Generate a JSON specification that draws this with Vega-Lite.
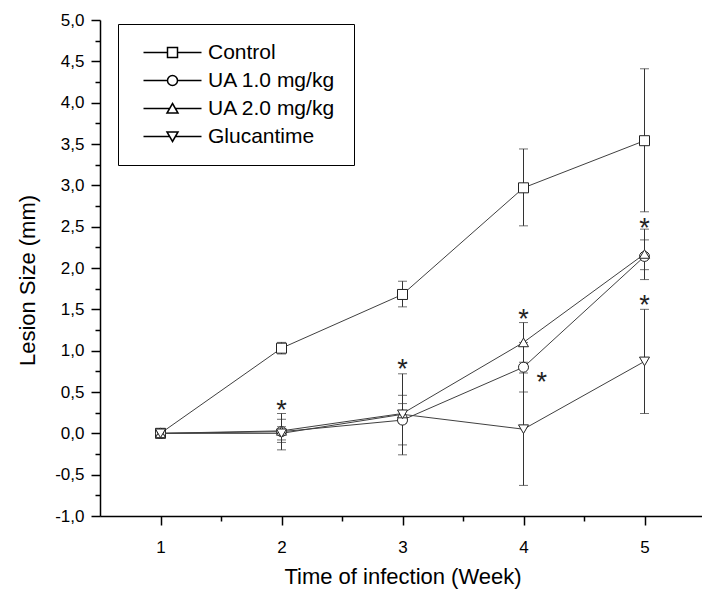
{
  "$schema": "https://vega.github.io/schema/vega-lite/v6.json",
  "width": 605,
  "height": 496,
  "autosize": "none",
  "padding": {"left": 100, "top": 20, "right": 0, "bottom": 76},
  "background": "white",
  "config": {
    "view": {"stroke": null},
    "font": "Liberation Sans",
    "axis": {"grid": false, "domainColor": "black", "tickColor": "black", "labelColor": "black", "titleColor": "black", "labelFont": "Liberation Sans", "titleFont": "Liberation Sans", "titleFontWeight": "normal", "domainWidth": 1.5, "tickWidth": 1.5}
  },
  "datasets": {
    "s": [
      {"series": "Control", "week": 1, "value": 0.0, "lo": -0.04, "hi": 0.04},
      {"series": "Control", "week": 2, "value": 1.03, "lo": 0.96, "hi": 1.10},
      {"series": "Control", "week": 3, "value": 1.68, "lo": 1.53, "hi": 1.84},
      {"series": "Control", "week": 4, "value": 2.97, "lo": 2.51, "hi": 3.44},
      {"series": "Control", "week": 5, "value": 3.54, "lo": 2.68, "hi": 4.41},
      {"series": "UA 1.0 mg/kg", "week": 1, "value": 0.0, "lo": -0.05, "hi": 0.05},
      {"series": "UA 1.0 mg/kg", "week": 2, "value": 0.02, "lo": -0.20, "hi": 0.24},
      {"series": "UA 1.0 mg/kg", "week": 3, "value": 0.16, "lo": -0.14, "hi": 0.46},
      {"series": "UA 1.0 mg/kg", "week": 4, "value": 0.80, "lo": 0.50, "hi": 1.10},
      {"series": "UA 1.0 mg/kg", "week": 5, "value": 2.14, "lo": 1.98, "hi": 2.34},
      {"series": "UA 2.0 mg/kg", "week": 1, "value": 0.0, "lo": -0.04, "hi": 0.04},
      {"series": "UA 2.0 mg/kg", "week": 2, "value": 0.03, "lo": -0.11, "hi": 0.17},
      {"series": "UA 2.0 mg/kg", "week": 3, "value": 0.24, "lo": 0.12, "hi": 0.36},
      {"series": "UA 2.0 mg/kg", "week": 4, "value": 1.10, "lo": 0.86, "hi": 1.34},
      {"series": "UA 2.0 mg/kg", "week": 5, "value": 2.17, "lo": 1.86, "hi": 2.47},
      {"series": "Glucantime", "week": 1, "value": 0.0, "lo": -0.04, "hi": 0.04},
      {"series": "Glucantime", "week": 2, "value": 0.0, "lo": -0.08, "hi": 0.08},
      {"series": "Glucantime", "week": 3, "value": 0.23, "lo": -0.26, "hi": 0.72},
      {"series": "Glucantime", "week": 4, "value": 0.05, "lo": -0.63, "hi": 0.73},
      {"series": "Glucantime", "week": 5, "value": 0.87, "lo": 0.24, "hi": 1.50}
    ],
    "ast": [
      {"week": 2, "value": 0.36},
      {"week": 3, "value": 0.85},
      {"week": 4, "value": 1.45},
      {"week": 4.15, "value": 0.69},
      {"week": 5, "value": 2.56},
      {"week": 5, "value": 1.62}
    ]
  },
  "layer": [
    {
      "data": {"name": "s"},
      "mark": {"type": "line", "color": "#404040", "strokeWidth": 1},
      "encoding": {
        "x": {"field": "week", "type": "quantitative", "scale": {"domain": [0.5, 5.5], "nice": false, "zero": false},
          "axis": {"values": [1, 2, 3, 4, 5], "format": "d", "tickSize": 9, "labelFontSize": 17, "labelPadding": 14, "title": "Time of infection (Week)", "titleFontSize": 22, "titlePadding": 11}},
        "y": {"field": "value", "type": "quantitative", "scale": {"domain": [-1, 5], "nice": false, "zero": false},
          "axis": {"values": [-1, -0.5, 0, 0.5, 1, 1.5, 2, 2.5, 3, 3.5, 4, 4.5, 5], "labelExpr": "(datum.value < 0 ? '-' : '') + replace(format(abs(datum.value), '.1f'), '.', ',')", "tickSize": 9, "labelFontSize": 17, "labelPadding": 7, "title": "Lesion Size (mm)", "titleFontSize": 22, "titlePadding": 15, "titleY": 260}},
        "detail": {"field": "series"}
      }
    },
    {
      "data": {"name": "s"},
      "mark": {"type": "rule", "color": "#333333", "strokeWidth": 1},
      "encoding": {
        "x": {"field": "week", "type": "quantitative", "scale": {"domain": [0.5, 5.5], "nice": false, "zero": false},
          "axis": {"orient": "bottom", "values": [1.5, 2.5, 3.5, 4.5], "labels": false, "domain": false, "tickSize": 5, "title": null}},
        "y": {"field": "lo", "type": "quantitative", "scale": {"domain": [-1, 5], "nice": false, "zero": false},
          "axis": {"orient": "left", "values": [-0.75, -0.25, 0.25, 0.75, 1.25, 1.75, 2.25, 2.75, 3.25, 3.75, 4.25, 4.75], "labels": false, "domain": false, "tickSize": 5, "title": null}},
        "y2": {"field": "hi"}
      }
    },
    {
      "data": {"name": "s"},
      "mark": {"type": "tick", "orient": "horizontal", "color": "#333333", "size": 9, "thickness": 1},
      "encoding": {
        "x": {"field": "week", "type": "quantitative", "scale": {"domain": [0.5, 5.5], "nice": false, "zero": false}, "axis": null},
        "y": {"field": "lo", "type": "quantitative", "scale": {"domain": [-1, 5], "nice": false, "zero": false}, "axis": null}
      }
    },
    {
      "data": {"name": "s"},
      "mark": {"type": "tick", "orient": "horizontal", "color": "#333333", "size": 9, "thickness": 1},
      "encoding": {
        "x": {"field": "week", "type": "quantitative", "scale": {"domain": [0.5, 5.5], "nice": false, "zero": false}, "axis": null},
        "y": {"field": "hi", "type": "quantitative", "scale": {"domain": [-1, 5], "nice": false, "zero": false}, "axis": null}
      }
    },
    {
      "data": {"name": "s"},
      "mark": {"type": "point", "filled": false, "fill": "white", "fillOpacity": 1, "stroke": "#222222", "strokeWidth": 1, "size": 100, "opacity": 1},
      "encoding": {
        "x": {"field": "week", "type": "quantitative", "scale": {"domain": [0.5, 5.5], "nice": false, "zero": false}, "axis": null},
        "y": {"field": "value", "type": "quantitative", "scale": {"domain": [-1, 5], "nice": false, "zero": false}, "axis": null},
        "shape": {"field": "series", "type": "nominal", "scale": {"domain": ["Control", "UA 1.0 mg/kg", "UA 2.0 mg/kg", "Glucantime"], "range": ["square", "circle", "triangle-up", "triangle-down"]}, "legend": null}
      }
    },
    {
      "data": {"name": "s"},
      "mark": {"type": "point", "filled": false, "color": "black", "size": 100, "opacity": 0},
      "encoding": {
        "x": {"field": "week", "type": "quantitative", "scale": {"domain": [0.5, 5.5], "nice": false, "zero": false}, "axis": null},
        "y": {"field": "value", "type": "quantitative", "scale": {"domain": [-1, 5], "nice": false, "zero": false}, "axis": null},
        "shape": {"field": "series", "type": "nominal",
          "scale": {"domain": ["Control", "UA 1.0 mg/kg", "UA 2.0 mg/kg", "Glucantime"],
            "range": [
              "M-5.8,0H-1M1,0H5.8M-1,-1H1V1H-1Z",
              "M-5.8,0H-1M1,0H5.8M-1,0A1,1 0 1,1 1,0A1,1 0 1,1 -1,0Z",
              "M-5.8,0H-0.58M0.58,0H5.8M0,-1L1.1,0.9L-1.1,0.9Z",
              "M-5.8,0H-0.58M0.58,0H5.8M0,1L1.1,-0.9L-1.1,-0.9Z"
            ]},
          "legend": {"title": null, "orient": "none", "legendX": 18, "legendY": 4, "padding": 18, "rowPadding": 6, "symbolSize": 100, "symbolOffset": 26, "labelOffset": 25, "labelFontSize": 21, "labelFont": "Liberation Sans", "labelColor": "black", "symbolOpacity": 1, "symbolStrokeColor": "black", "symbolFillColor": "white", "strokeColor": "black", "fillColor": "white", "cornerRadius": 0}
        }
      }
    },
    {
      "data": {"name": "ast"},
      "mark": {"type": "text", "text": "*", "fontSize": 27, "font": "Liberation Sans", "color": "#222222", "baseline": "alphabetic", "dy": 15},
      "encoding": {
        "x": {"field": "week", "type": "quantitative", "scale": {"domain": [0.5, 5.5], "nice": false, "zero": false}, "axis": null},
        "y": {"field": "value", "type": "quantitative", "scale": {"domain": [-1, 5], "nice": false, "zero": false}, "axis": null}
      }
    }
  ],
  "resolve": {"scale": {"shape": "independent"}, "axis": {"x": "independent", "y": "independent"}}
}
